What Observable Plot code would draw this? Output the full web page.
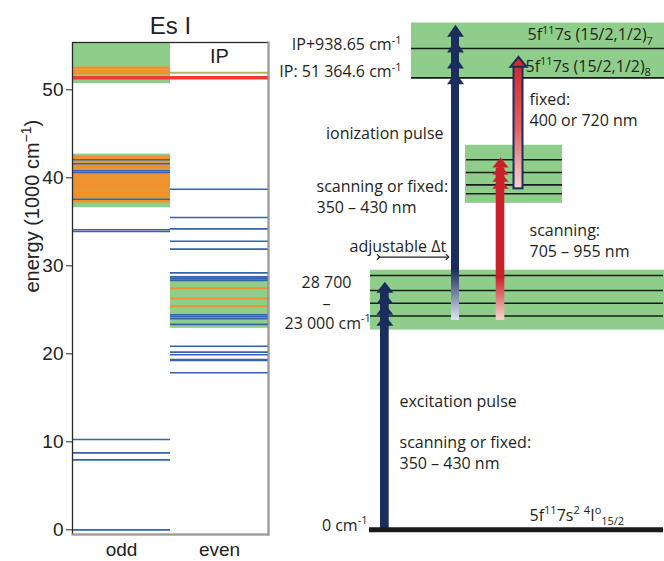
<!DOCTYPE html>
<html>
<head>
<meta charset="utf-8">
<script src="https://cdn.jsdelivr.net/npm/d3@7"></script>
<script src="https://cdn.jsdelivr.net/npm/@observablehq/plot@0.6"></script>
<style>
  html, body { margin: 0; padding: 0; background: #fff; }
  #chart { position: relative; width: 664px; height: 561px; overflow: hidden; background: #fff; }
  #chart svg { position: absolute; top: 0; overflow: visible; }
</style>
</head>
<body>
<div id="chart"></div>
<script>
// ---------- Es I level scheme (energies in 1000 cm^-1) ----------
const parities = ["odd", "even"];
const yTicks = [0, 10, 20, 30, 40, 50];
const ionizationPotential = 51.3646;

// densely populated regions of the spectrum
const regionParity = ["odd", "odd", "even"];
const regionLow = [50.7, 36.6, 22.9];
const regionHigh = [55.35, 42.7, 28.8];

// known levels
const oddLevels = [0, 7.95, 8.75, 10.26, 33.9, 34.1, 37.57, 40.6, 40.8, 41.6, 42.05];
const evenLevels = [17.85, 19.25, 19.35, 19.9, 20.2, 20.86, 23.35, 24.0, 24.25, 24.45,
  28.35, 28.55, 28.75, 29.2, 31.9, 32.8, 34.2, 35.5, 38.7];
// newly observed levels
const oddNew = [37.34, 37.8, 38.07, 38.3, 38.56, 38.82, 39.05, 39.24, 39.47, 39.7, 39.89,
  40.15, 40.38, 40.94, 41.2, 41.4, 41.85, 42.27, 42.42, 51.9, 52.1, 52.5];
const evenNew = [25.4, 26.3, 27.45];
const evenAboveIP = [51.95];

// ---------- excitation scheme (schematic energies, 1000 cm^-1) ----------
const schemeBandLow = [51.25, 37.1, 22.7];
const schemeBandHigh = [57.6, 43.7, 29.5];
const ipLevels = [54.7, 51.36];
const intermediateLevels = [42.05, 40.6, 39.2, 38.2];
const firstStepLevels = [28.9, 27.2, 25.75, 24.3];
const groundLevel = [0];

const excitationTips = [28.2, 26.95, 25.7, 24.45];
const ionizationTips = [57.4, 55.6, 53.8, 52.0];
const scanningTips = [42.3, 41.5, 40.7, 39.9];
const fixedTip = [53.75];
const delayLevel = [31.0];

const schemeText = [
  "IP+938.65 cm^{-1}", "IP: 51 364.6 cm^{-1}",
  "5f^{11}7s (15/2,1/2)_{7}", "5f^{11}7s (15/2,1/2)_{8}",
  "fixed:", "400 or 720 nm", "ionization pulse",
  "scanning or fixed:", "350 – 430 nm",
  "scanning:", "705 – 955 nm", "adjustable Δt",
  "28 700", "–", "23 000 cm^{-1}",
  "excitation pulse", "scanning or fixed:", "350 – 430 nm",
  "0 cm^{-1}", "5f^{11}7s^{2} ^{4}I^{o}_{15/2}"
];
const schemeTextEnergy = [55.1, 52.0, 56.2, 52.65, 48.9, 46.5, 45.0, 39.0, 36.6,
  34.0, 31.6, 32.1, 28.1, 25.7, 23.45, 14.5, 9.9, 7.55, 0.5, 1.6];

// ---------- layout of the scheme (horizontal positions, px) ----------
const textX = [401, 401, 527, 525, 529, 529, 443, 316, 316, 529, 529, 349, 326, 326, 284, 399, 399, 399, 367, 529];
const textAnchor = ["end", "end", "start", "start", "start", "start", "end", "start", "start", "start", "start",
  "start", "middle", "middle", "start", "start", "start", "start", "end", "start"];
const bandX = [[411, 664], [465, 562], [370, 664]];

// ---------- style ----------
const navy = "#1b2d5c", red = "#c9202a", green = "#8fce8a", ink = "#231f20";
const blue = "#3563ad", orange = "#f0922c", olive = "#b9b45e", ipRed = "#f03a30";

const yScale = {domain: [-0.53, 55.38], range: [534, 42]};

// rewrites "^{..}" and "_{..}" in text marks described as "rich" into raised/lowered tspans
function richText(svg, fs) {
  d3.select(svg).selectAll('g[aria-description="rich"] text').each(function () {
    const el = d3.select(this);
    const src = el.text();
    el.text(null);
    let cur = 0;
    for (const m of src.matchAll(/([\^_])\{([^}]*)\}|([^\^_]+)/g)) {
      const small = !!m[1];
      const s = !small ? 0 : m[1] === "^" ? -0.4 * fs : 0.28 * fs;
      const t = el.append("tspan").text(small ? m[2] : m[3]);
      if (small) t.attr("font-size", Math.round(fs * 0.68));
      if (s !== cur) t.attr("dy", s - cur);
      cur = s;
    }
  });
}

// chevron-shaped arrow head with its tip at the data point
const chevron = (w, h) => ({
  draw(ctx) { ctx.moveTo(0, 0); ctx.lineTo(w / 2, h); ctx.lineTo(-w / 2, h); ctx.closePath(); }
});

const gradients = () => {
  const defs = d3.create("svg:defs");
  const grad = (id, stops) => {
    const g = defs.append("linearGradient").attr("id", id)
      .attr("x1", 0).attr("y1", 0).attr("x2", 0).attr("y2", 1);
    stops.forEach(([o, c]) => g.append("stop").attr("offset", o).attr("stop-color", c));
  };
  grad("navyFade", [[0, navy], [1, "#dfe5f2"]]);
  grad("redFade", [[0, red], [1, "#f8d8d2"]]);
  grad("fixedFill", [[0, "#d42a2a"], [0.5, "#df5f5f"], [1, "#f6d4d2"]]);
  return defs.node();
};

// ---------- left panel ----------
const regions = regionParity.map((p, i) => ({parity: p, lo: regionLow[i], hi: regionHigh[i]}));
const tag = (arr, parity) => arr.map(e => ({parity, e}));

const left = Plot.plot({
  width: 280, height: 561,
  marginLeft: 72, marginRight: 12, marginTop: 42, marginBottom: 27,
  style: {fontFamily: "'Liberation Sans', Arial, sans-serif", color: "#222", background: "transparent"},
  x: {type: "band", domain: parities, padding: 0},
  y: {domain: yScale.domain},
  marks: [
    Plot.barY(regions, {x: "parity", y1: "lo", y2: "hi", fill: green}),
    Plot.tickY(tag(oddNew, "odd"), {x: "parity", y: "e", stroke: orange, strokeWidth: 2.6}),
    Plot.tickY(tag(evenNew, "even"), {x: "parity", y: "e", stroke: orange, strokeWidth: 2}),
    Plot.tickY([...tag(oddLevels, "odd"), ...tag(evenLevels, "even")],
      {x: "parity", y: "e", stroke: blue, strokeWidth: 1.6}),
    Plot.tickY(tag(evenAboveIP, "even"), {x: "parity", y: "e", stroke: olive, strokeWidth: 2}),
    Plot.ruleY([ionizationPotential], {stroke: ipRed, strokeWidth: 3.5}),
    Plot.frame({stroke: "#2a2a2a", strokeWidth: 1.3}),
    Plot.frame({anchor: "right", stroke: "#9a9a9a", strokeWidth: 2}),
    Plot.frame({anchor: "bottom", stroke: "#9a9a9a", strokeWidth: 2}),
    Plot.axisY({ticks: yTicks, tickSize: 6, tickPadding: 3, fontSize: 19, label: null}),
    Plot.axisX({tickSize: 0, tickPadding: 8, fontSize: 19, label: null}),
    Plot.text([{parity: "even", e: 53.8}], {x: "parity", y: "e", text: () => "IP", fontSize: 20, fill: "#222"}),
    Plot.text(["Es I"], {frameAnchor: "top", lineAnchor: "bottom", dy: -9, fontSize: 24, fill: "#222"}),
    Plot.text(["energy (1000 cm^{−1})"], {frameAnchor: "left", dx: -40, dy: 4, rotate: -90,
      fontSize: 20, fill: "#222", ariaDescription: "rich"})
  ]
});
richText(left, 20);
left.style.left = "0px";

// ---------- right panel ----------
const schemeBands = schemeBandLow.map((lo, i) => ({lo, hi: schemeBandHigh[i], x1: bandX[i][0], x2: bandX[i][1]}));
const labels = schemeText.map((t, i) => ({t, e: schemeTextEnergy[i], x: textX[i], a: textAnchor[i]}));
const labelMark = anchor => Plot.text(labels.filter(d => d.a === anchor),
  {x: "x", y: "e", text: "t", textAnchor: anchor, fontSize: 16, fill: ink, ariaDescription: "rich"});

const right = Plot.plot({
  width: 384, height: 561,
  marginLeft: 0, marginRight: 0, marginTop: 0, marginBottom: 0,
  style: {fontFamily: "'Open Sans', Lato, sans-serif", background: "transparent"},
  x: {domain: [280, 664], range: [0, 384], axis: null},
  y: {...yScale, axis: null},
  marks: [
    gradients,
    Plot.rect(schemeBands, {x1: "x1", x2: "x2", y1: "lo", y2: "hi", fill: green}),
    Plot.ruleY(ipLevels, {y: d => d, x1: bandX[0][0], x2: bandX[0][1], stroke: "#1a1a1a", strokeWidth: 1.6}),
    Plot.ruleY(intermediateLevels, {y: d => d, x1: 466, x2: 562, stroke: "#1a1a1a", strokeWidth: 1.6}),
    Plot.ruleY(firstStepLevels, {y: d => d, x1: 370, x2: 663, stroke: "#1a1a1a", strokeWidth: 1.6}),
    // excitation pulse
    Plot.rect([0], {x1: 380, x2: 388.7, y1: d => d, y2: 27.0, fill: navy}),
    Plot.dot(excitationTips, {x: 384.35, y: d => d, symbol: chevron(17, 11), fill: navy}),
    // ionization pulse
    Plot.rect([29.4], {x1: 451, x2: 459, y1: d => d, y2: 56.2, fill: navy}),
    Plot.rect([23.8], {x1: 451, x2: 459, y1: d => d, y2: 29.5, fill: "url(#navyFade)"}),
    Plot.dot(ionizationTips, {x: 455, y: d => d, symbol: chevron(17, 12), fill: navy}),
    // scanning second step
    Plot.rect([28.6], {x1: 495.7, x2: 504.3, y1: d => d, y2: 41.1, fill: red}),
    Plot.rect([23.8], {x1: 495.7, x2: 504.3, y1: d => d, y2: 28.7, fill: "url(#redFade)"}),
    Plot.dot(scanningTips, {x: 500, y: d => d, symbol: chevron(16, 10), fill: red}),
    // fixed second step
    Plot.rect([38.75], {x1: 513.5, x2: 522.5, y1: d => d, y2: 52.7, fill: "url(#fixedFill)", stroke: navy, strokeWidth: 2}),
    Plot.dot(fixedTip, {x: 518, y: d => d, symbol: chevron(16, 10), fill: "#d42a2a", stroke: navy, strokeWidth: 2}),
    // ground state
    Plot.ruleY(groundLevel, {y: d => d, x1: 369, x2: 663, stroke: "#1a1a1a", strokeWidth: 5}),
    // delay between pulses
    Plot.link(delayLevel, {x1: 378, x2: 447, y1: d => d, y2: d => d, stroke: ink, strokeWidth: 1.2,
      markerStart: "arrow", markerEnd: "arrow"}),
    labelMark("start"), labelMark("middle"), labelMark("end")
  ]
});
richText(right, 16);
right.style.left = "280px";

const chart = document.getElementById("chart");
chart.append(left, right);
</script>
</body>
</html>
